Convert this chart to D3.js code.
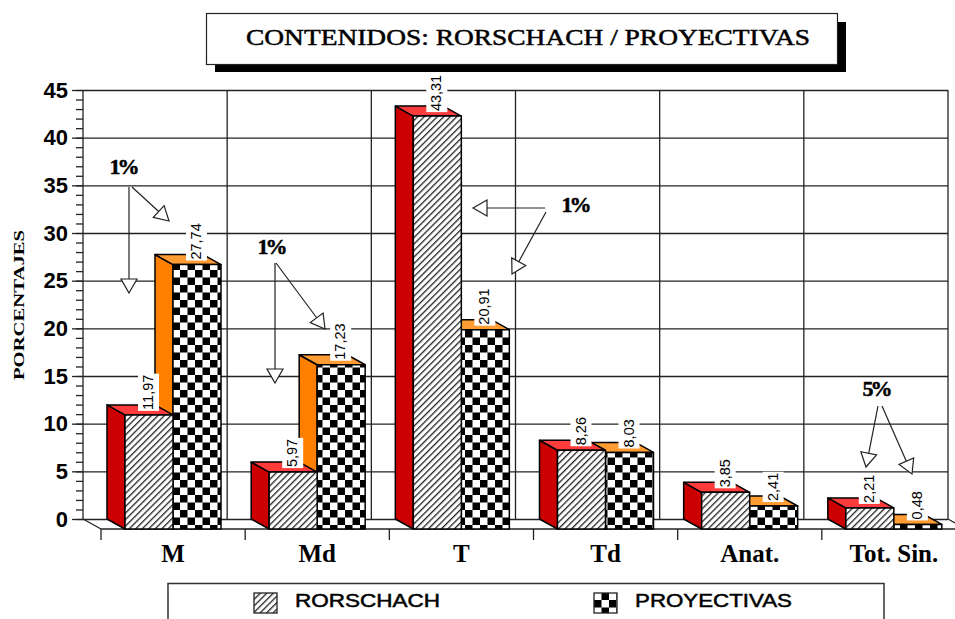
<!DOCTYPE html>
<html>
<head>
<meta charset="utf-8">
<script src="https://cdn.jsdelivr.net/npm/d3@7"></script>
<style>
  html, body { margin: 0; padding: 0; background: #fff; overflow: hidden; }
  svg { display: block; }
  .serif { font-family: "Liberation Serif", serif; font-weight: bold; fill: #000; }
  .sans { font-family: "Liberation Sans", sans-serif; fill: #000; }
</style>
</head>
<body>
<svg id="chart" width="955" height="619"></svg>
<script>
/* data */
const categories = ["M", "Md", "T", "Td", "Anat.", "Tot. Sin."];
const seriesNames = ["RORSCHACH", "PROYECTIVAS"];
const rorschach = [11.97, 5.97, 43.31, 8.26, 3.85, 2.21];
const proyectivas = [27.74, 17.23, 20.91, 8.03, 2.41, 0.48];
const yTicks = [0, 5, 10, 15, 20, 25, 30, 35, 40, 45];
const minorTicks = d3.range(0, 46);
const titleText = "CONTENIDOS: RORSCHACH / PROYECTIVAS";
const yTitle = "PORCENTAJES";
const calloutLabels = ["1%", "1%", "1%", "5%"];

const svg = d3.select("#chart");
const DX = 18, DY = 10;            // 3D depth of the bars
const left = 83, right = 948;

const y = d3.scaleLinear().domain([0, 45]).range([519, 90]);
const x = d3.scaleBand().domain(categories).range([101, 966]);
const xSeries = d3.scaleBand().domain(seriesNames).range([24, 120]);

/* ── patterns ── */
const defs = svg.append("defs");
const hatch = defs.append("pattern").attr("id", "hatch")
  .attr("patternUnits", "userSpaceOnUse").attr("width", 4.6).attr("height", 4.6)
  .attr("patternTransform", "rotate(45)");
hatch.append("rect").attr("width", 4.6).attr("height", 4.6).attr("fill", "#fff");
hatch.append("rect").attr("width", 1.3).attr("height", 4.6).attr("fill", "#222");

const checks = defs.append("pattern").attr("id", "checks")
  .attr("patternUnits", "userSpaceOnUse").attr("width", 15).attr("height", 15);
checks.append("rect").attr("width", 15).attr("height", 15).attr("fill", "#fff");
checks.append("rect").attr("width", 7.5).attr("height", 7.5).attr("fill", "#000");
checks.append("rect").attr("x", 7.5).attr("y", 7.5).attr("width", 7.5).attr("height", 7.5).attr("fill", "#000");

/* ── title box ── */
svg.append("rect").attr("x", 215).attr("y", 22).attr("width", 631).attr("height", 50).attr("fill", "#000");
svg.append("rect").attr("x", 206.5).attr("y", 13.5).attr("width", 631).attr("height", 51)
  .attr("fill", "#fff").attr("stroke", "#222").attr("stroke-width", 1.2);
svg.append("text").attr("class", "serif").attr("x", 528).attr("y", 45)
  .attr("text-anchor", "middle").attr("font-size", 23.5).attr("font-weight", "normal")
  .style("font-weight", "normal").attr("stroke", "#000").attr("stroke-width", 0.5)
  .attr("textLength", 564).attr("lengthAdjust", "spacingAndGlyphs").text(titleText);

/* ── y axis + grid ── */
const fixAxis = g => g.select(".domain").remove();

svg.append("g").attr("transform", `translate(${left},0)`)
  .call(d3.axisLeft(y).tickValues(minorTicks).tickSize(7).tickFormat(""))
  .call(fixAxis)
  .selectAll("line").attr("stroke", "#222").attr("stroke-width", 1.3);

svg.append("g").attr("transform", `translate(${left},0)`)
  .call(d3.axisRight(y).tickValues(yTicks).tickSize(right - left).tickFormat(""))
  .call(fixAxis)
  .selectAll("line").attr("stroke", "#222").attr("stroke-width", 1.3);

const yAxis = svg.append("g").attr("transform", `translate(${left},0)`)
  .call(d3.axisLeft(y).tickValues(yTicks).tickSize(11).tickPadding(4))
  .call(fixAxis);
yAxis.selectAll("line").attr("stroke", "#222").attr("stroke-width", 1.3);
yAxis.selectAll("text").attr("class", "sans").attr("font-size", 22).attr("font-weight", "bold")
  .attr("font-family", "Liberation Sans").attr("fill", "#000");

// vertical grid: back wall, then one line at each band end
svg.append("g").selectAll("line")
  .data([left].concat(categories.map(c => x(c) + x.bandwidth() - DX)))
  .join("line")
  .attr("x1", d => d).attr("x2", d => d)
  .attr("y1", y(45)).attr("y2", y(0))
  .attr("stroke", "#222").attr("stroke-width", 1.3);

svg.append("text").attr("class", "serif")
  .attr("transform", "translate(24,305) rotate(-90)")
  .attr("text-anchor", "middle").attr("font-size", 15.5)
  .attr("textLength", 150).attr("lengthAdjust", "spacingAndGlyphs").text(yTitle);

/* ── floor ── */
const floor = svg.append("g").attr("stroke", "#222").attr("stroke-width", 1.3).attr("fill", "none");
floor.append("line").attr("x1", left).attr("x2", x(categories[0])).attr("y1", y(0)).attr("y2", y(0) + DY);
floor.append("line").attr("x1", x(categories[0])).attr("x2", 955).attr("y1", y(0) + DY).attr("y2", y(0) + DY);
floor.append("line").attr("x1", right).attr("x2", 955).attr("y1", y(0)).attr("y2", y(0) + 4);
floor.selectAll("line.tick").data(categories).join("line").attr("class", "tick")
  .attr("x1", d => x(d)).attr("x2", d => x(d))
  .attr("y1", y(0) + DY).attr("y2", y(0) + DY + 11);

svg.append("g").selectAll("text").data(categories).join("text")
  .attr("class", "serif")
  .attr("x", d => x(d) + x.bandwidth() / 2).attr("y", 562)
  .attr("text-anchor", "middle").attr("font-size", 25)
  .text(d => d);

/* ── 3D bars: proyectivas first, the rorschach face sits in front of its side ── */
const seriesStyle = [
  { values: rorschach, side: "#cc0000", top: "#ff3c3c", face: "url(#hatch)" },
  { values: proyectivas, side: "#ff8000", top: "#ff9c33", face: "url(#checks)" }
];
const poly = pts => pts.map(p => p.join(",")).join(" ");
const gBars = svg.append("g").attr("stroke", "#000").attr("stroke-width", 1.5).attr("stroke-linejoin", "round");

categories.forEach((cat, i) => {
  [1, 0].forEach(s => {
    const st = seriesStyle[s];
    const v = st.values[i];
    const x0 = x(cat) + xSeries(seriesNames[s]), x1 = x0 + xSeries.bandwidth();
    const yTop = y(v) + DY, yBase = y(0) + DY;
    gBars.append("polygon").attr("fill", st.side)
      .attr("points", poly([[x0, yTop], [x0 - DX, yTop - DY], [x0 - DX, yBase - DY], [x0, yBase]]));
    gBars.append("polygon").attr("fill", st.top)
      .attr("points", poly([[x0, yTop], [x0 - DX, yTop - DY], [x1 - DX, yTop - DY], [x1, yTop]]));
    gBars.append("rect").attr("fill", st.face)
      .attr("x", x0).attr("y", yTop).attr("width", x1 - x0).attr("height", yBase - yTop);
  });
});

/* ── value labels, white box knocks out grid ── */
const fmt = v => v.toFixed(2).replace(".", ",");
const gLabels = svg.append("g");
categories.forEach((cat, i) => {
  seriesNames.forEach((name, s) => {
    const v = seriesStyle[s].values[i];
    const cx = x(cat) + xSeries(name) + xSeries.bandwidth() / 2 - 1;
    const by = y(v) + 6;
    const g = gLabels.append("g").attr("transform", `translate(${cx},${by}) rotate(-90)`);
    const t = g.append("text").attr("class", "sans").attr("font-size", 14.5)
      .attr("x", 1).attr("y", 5).text(fmt(v));
    const b = t.node().getBBox();
    g.insert("rect", "text").attr("x", 0).attr("y", -10)
      .attr("width", b.width + 2).attr("height", 21).attr("fill", "#fff");
  });
});

/* ── callouts: label plus hollow arrows ── */
const calloutLayout = [
  { at: [123, 174], arrows: [[[129, 187], [129, 293]], [[132, 187], [169, 221]]] },
  { at: [271, 254], arrows: [[[275, 263], [275, 383]], [[276, 263], [325, 329]]] },
  { at: [575, 212], arrows: [[[545, 208], [473, 208]], [[546, 212], [512, 274]]] },
  { at: [876, 396], arrows: [[[878, 406], [866, 467]], [[882, 406], [912, 474]]] }
];
const gCallouts = svg.append("g");
calloutLayout.forEach((c, i) => {
  gCallouts.append("text").attr("class", "serif")
    .attr("x", c.at[0]).attr("y", c.at[1]).attr("text-anchor", "middle")
    .attr("font-size", 22).attr("letter-spacing", -3)
    .attr("stroke", "#000").attr("stroke-width", 0.5).text(calloutLabels[i]);
  c.arrows.forEach(([a, b]) => {
    const ang = Math.atan2(b[1] - a[1], b[0] - a[0]);
    const len = 14, hw = 8;
    const bx = b[0] - len * Math.cos(ang), by = b[1] - len * Math.sin(ang);
    gCallouts.append("line").attr("x1", a[0]).attr("y1", a[1]).attr("x2", bx).attr("y2", by)
      .attr("stroke", "#222").attr("stroke-width", 1.2);
    gCallouts.append("polygon").attr("fill", "#fff").attr("stroke", "#222").attr("stroke-width", 1.2)
      .attr("points", poly([
        b,
        [bx + hw * Math.sin(ang), by - hw * Math.cos(ang)],
        [bx - hw * Math.sin(ang), by + hw * Math.cos(ang)]
      ]));
  });
});

/* ── legend, box runs off the bottom of the page ── */
svg.append("path").attr("d", "M168,619V583.5H884V619")
  .attr("fill", "none").attr("stroke", "#333").attr("stroke-width", 1.5);
const legendX = d3.scalePoint().domain(seriesNames).range([254, 594]);
const legend = svg.append("g").selectAll("g").data(seriesNames).join("g")
  .attr("transform", d => `translate(${legendX(d)},0)`);
legend.append("rect").attr("y", 593).attr("width", 23).attr("height", 20)
  .attr("fill", (d, i) => seriesStyle[i].face).attr("stroke", "#222").attr("stroke-width", 1.3);
legend.append("text").attr("class", "sans").attr("x", 41).attr("y", 607)
  .attr("font-size", 19).attr("stroke", "#000").attr("stroke-width", 0.5)
  .attr("textLength", (d, i) => i ? 157 : 145)
  .attr("lengthAdjust", "spacingAndGlyphs").text(d => d);
</script>
</body>
</html>
